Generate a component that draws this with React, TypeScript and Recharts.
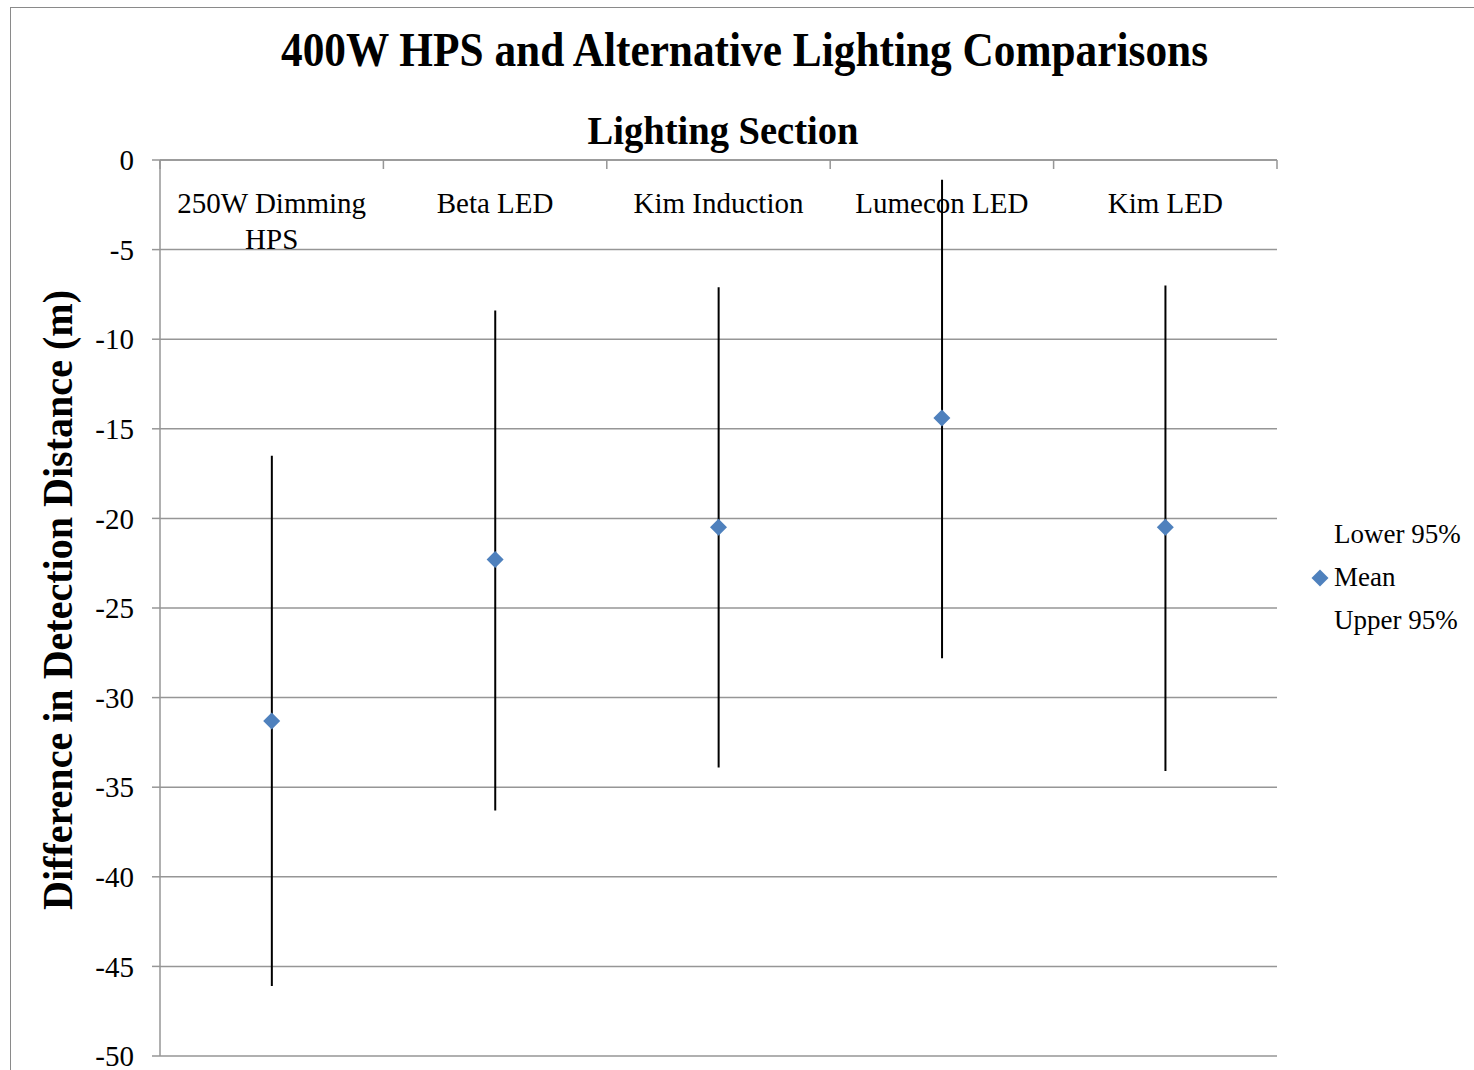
import { ComposedChart, Bar, Line, Scatter, XAxis, YAxis, CartesianGrid, Legend, Label } from 'recharts';

// lighting sections and the detection-distance difference vs. 400W HPS (m)
const categories = ['250W Dimming HPS', 'Beta LED', 'Kim Induction', 'Lumecon LED', 'Kim LED'];
const lower95 = [-46.1, -36.3, -33.9, -27.8, -34.1];
const meanDiff = [-31.3, -22.3, -20.5, -14.4, -20.5];
const upper95 = [-16.5, -8.4, -7.1, -1.1, -7.0];
const yTicks = [0, -5, -10, -15, -20, -25, -30, -35, -40, -45, -50];

const chartData = categories.map((name, i) => ({
  name,
  lower: lower95[i],
  mean: meanDiff[i],
  upper: upper95[i],
  span: [lower95[i], upper95[i]],
}));

const FONT = '"Liberation Serif", "Times New Roman", serif';
const GRID = '#969696';
const BLUE = '#4F81BD';

const W = 1470;
const H = 1070;
const PLOT_W = 1117;
const TICK_FONT_SIZE = 29;

let measureCtx: CanvasRenderingContext2D | null = null;

// greedy word wrap so long category names break inside their band
function wrapWords(text: string, maxWidth: number): string[] {
  if (!measureCtx) {
    measureCtx = document.createElement('canvas').getContext('2d');
  }
  const ctx = measureCtx;
  if (!ctx) return [text];
  ctx.font = `${TICK_FONT_SIZE}px ${FONT}`;
  const lines: string[] = [];
  let current = '';
  text.split(' ').forEach((word) => {
    const trial = current ? `${current} ${word}` : word;
    if (current && ctx.measureText(trial).width > maxWidth) {
      lines.push(current);
      current = word;
    } else {
      current = trial;
    }
  });
  if (current) lines.push(current);
  return lines;
}

function CategoryTick(props: any) {
  const { x, y, payload, index } = props;
  const count = props.visibleTicksCount || categories.length;
  const band = PLOT_W / count;
  const lines = wrapWords(String(payload.value), band - 14);
  return (
    <g>
      <line x1={x - band / 2} y1={y} x2={x - band / 2} y2={y + 9} stroke={GRID} strokeWidth={1.5} />
      {index === count - 1 && (
        <line x1={x + band / 2} y1={y} x2={x + band / 2} y2={y + 9} stroke={GRID} strokeWidth={1.5} />
      )}
      <text x={x} y={y + 53} textAnchor="middle" fill="#000" fontFamily={FONT} fontSize={TICK_FONT_SIZE}>
        {lines.map((line, i) => (
          <tspan key={i} x={x} dy={i === 0 ? 0 : 36}>
            {line}
          </tspan>
        ))}
      </text>
    </g>
  );
}

// high-low line between the lower and upper 95% bounds
function HighLowLine(props: any) {
  const { x, y, width, height } = props;
  const cx = x + width / 2;
  const top = Math.min(y, y + height);
  return <line x1={cx} x2={cx} y1={top} y2={top + Math.abs(height)} stroke="#000" strokeWidth={2} />;
}

function Diamond(props: any) {
  const { cx, cy } = props;
  const r = 8.5;
  return <polygon points={`${cx},${cy - r} ${cx + r},${cy} ${cx},${cy + r} ${cx - r},${cy}`} fill={BLUE} />;
}

function AxisTitle(props: any) {
  const vb = props.viewBox || { x: 9, y: 152, width: 140, height: 896 };
  const x = vb.x + 52;
  const y = vb.y + vb.height / 2 - 8;
  return (
    <text
      x={x}
      y={y}
      transform={`rotate(-90, ${x}, ${y})`}
      textAnchor="middle"
      fontFamily={FONT}
      fontWeight="bold"
      fontSize={42}
      textLength={620}
      lengthAdjust="spacingAndGlyphs"
      fill="#000"
    >
      Difference in Detection Distance (m)
    </text>
  );
}

function LegendBox(props: any) {
  const payload = (props.payload || []).filter((entry: any) => entry.type !== 'none');
  return (
    <div style={{ fontFamily: FONT, fontSize: 27, color: '#000' }}>
      {payload.map((entry: any) => (
        <div key={entry.value} style={{ display: 'flex', alignItems: 'center', height: 43, lineHeight: '43px' }}>
          <svg width={18} height={18} style={{ marginRight: 5, flex: 'none' }}>
            {entry.type === 'diamond' && <polygon points="9,0.5 17.5,9 9,17.5 0.5,9" fill={BLUE} />}
          </svg>
          <span style={{ whiteSpace: 'nowrap' }}>{entry.value}</span>
        </div>
      ))}
    </div>
  );
}

export default function App() {
  return (
    <div style={{ position: 'fixed', left: 0, top: 0, width: 1474, height: 1070, overflow: 'hidden', background: '#fff' }}>
      <div
        style={{
          position: 'absolute',
          left: 10,
          top: 7,
          width: 1500,
          height: 1100,
          border: '1px solid #8a8a8a',
          background: '#fff',
        }}
      >
        <ComposedChart width={W} height={H} data={chartData} margin={{ top: 151, right: 204, bottom: 22, left: 9 }}>
          <CartesianGrid horizontal vertical={false} stroke={GRID} strokeWidth={1.5} />
          <XAxis
            dataKey="name"
            orientation="top"
            height={1}
            tickSize={0}
            tickMargin={0}
            tickLine={false}
            axisLine={{ stroke: GRID, strokeWidth: 1.5 }}
            interval={0}
            tick={<CategoryTick />}
          />
          <YAxis
            type="number"
            domain={[-50, 0]}
            ticks={yTicks}
            interval={0}
            width={140}
            tickSize={8}
            tickMargin={18}
            tickLine={{ stroke: GRID, strokeWidth: 1.5 }}
            axisLine={{ stroke: GRID, strokeWidth: 1.5 }}
            tick={{ fill: '#000', fontSize: 29, fontFamily: FONT }}
          >
            <Label content={<AxisTitle />} />
          </YAxis>
          <Line dataKey="lower" name="Lower 95%" stroke="none" dot={false} activeDot={false} legendType="plainline" isAnimationActive={false} />
          <Bar dataKey="span" legendType="none" shape={<HighLowLine />} isAnimationActive={false} />
          <Scatter dataKey="mean" name="Mean" legendType="diamond" fill={BLUE} shape={<Diamond />} isAnimationActive={false} />
          <Line dataKey="upper" name="Upper 95%" stroke="none" dot={false} activeDot={false} legendType="plainline" isAnimationActive={false} />
          <Legend
            layout="vertical"
            align="center"
            verticalAlign="middle"
            content={<LegendBox />}
            wrapperStyle={{ left: 1300, top: 505, width: 170 }}
          />
        </ComposedChart>
        <svg width={W} height={200} style={{ position: 'absolute', left: 0, top: 0, pointerEvents: 'none' }}>
          <text
            x={733.5}
            y={58}
            textAnchor="middle"
            fontFamily={FONT}
            fontWeight="bold"
            fontSize={48}
            textLength={927}
            lengthAdjust="spacingAndGlyphs"
            fill="#000"
          >
            400W HPS and Alternative Lighting Comparisons
          </text>
          <text
            x={712}
            y={136}
            textAnchor="middle"
            fontFamily={FONT}
            fontWeight="bold"
            fontSize={40}
            textLength={271}
            lengthAdjust="spacingAndGlyphs"
            fill="#000"
          >
            Lighting Section
          </text>
        </svg>
      </div>
    </div>
  );
}
